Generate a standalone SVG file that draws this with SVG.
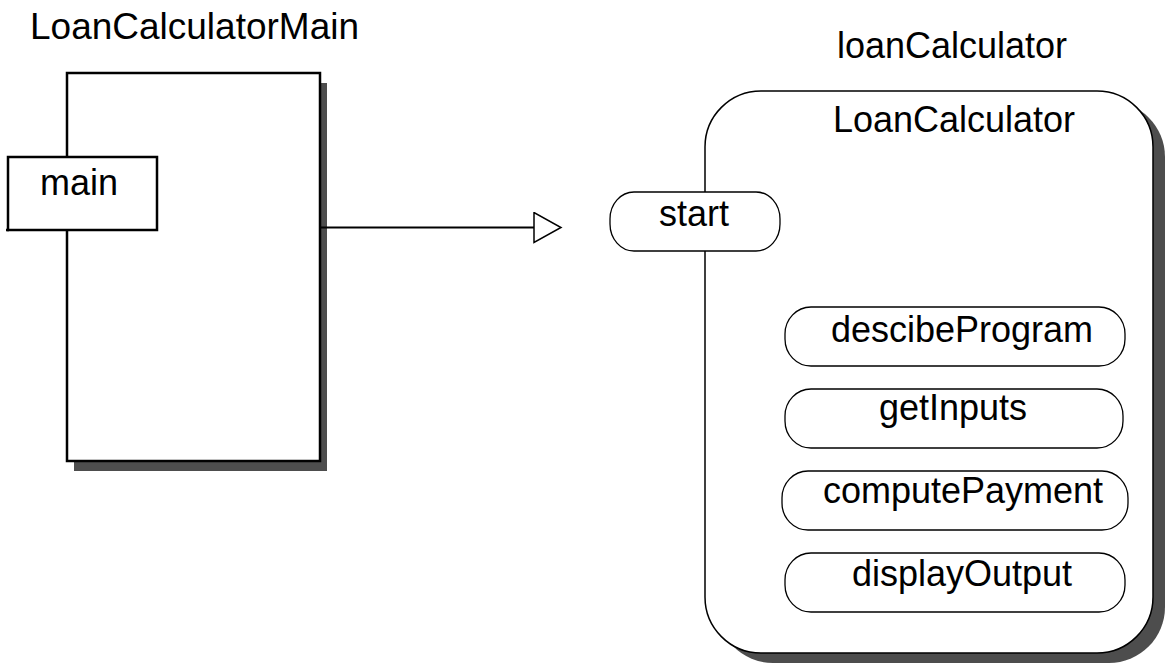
<svg xmlns="http://www.w3.org/2000/svg" width="1168" height="664" viewBox="0 0 1168 664">
  <style>
    text { font-family: "Liberation Sans", Arial, sans-serif; font-size: 36px; fill: #000; }
    .mid { text-anchor: middle; }
    .shadow { fill: #4d4d4d; stroke: none; }
    .frame { fill: #fff; stroke: #000; stroke-width: 2.5; }
    .soft { fill: #fff; stroke: #000; stroke-width: 1.5; }
    .pill { fill: #fff; stroke: #000; stroke-width: 1.3; }
    .wire { fill: none; stroke: #000; stroke-width: 2; }
  </style>
  <defs>
    <marker id="openTri" markerUnits="userSpaceOnUse" markerWidth="32" markerHeight="36" refX="1" refY="16" orient="auto">
      <path d="M1,1 L28,16 L1,31 Z" fill="#fff" stroke="#000" stroke-width="1.5"/>
    </marker>
  </defs>
  <rect width="1168" height="664" fill="#fff"/>

  <!-- LoanCalculatorMain class -->
  <g id="loanCalculatorMain">
    <text x="30" y="39" textLength="329" lengthAdjust="spacingAndGlyphs">LoanCalculatorMain</text>
    <rect class="shadow" x="74" y="83" width="253" height="388"/>
    <rect class="frame" x="67" y="73" width="253" height="388"/>
  </g>

  <!-- main method box on the class edge -->
  <g id="main">
    <rect class="frame" x="8" y="157" width="149" height="73"/>
    <line x1="6" y1="230" x2="9" y2="230" stroke="#000" stroke-width="2.5"/>
    <text class="mid" x="79" y="195">main</text>
  </g>

  <!-- connectors -->
  <g id="connectors">
    <line class="wire" x1="320" y1="227.5" x2="534" y2="227.5" marker-end="url(#openTri)"/>
  </g>

  <!-- loanCalculator object -->
  <g id="loanCalculator">
    <text class="mid" x="952" y="58">loanCalculator</text>
    <rect class="shadow" x="717" y="101" width="448" height="562" rx="56" ry="56"/>
    <rect class="soft" x="705" y="91" width="448" height="562" rx="56" ry="56"/>
    <text class="mid" x="954" y="132">LoanCalculator</text>
  </g>

  <g id="start">
    <rect class="pill" x="610" y="192" width="170" height="59" rx="24" ry="27"/>
    <text class="mid" x="694" y="226">start</text>
  </g>

  <g id="descibeProgram">
    <rect class="pill" x="785" y="307" width="340" height="59" rx="26" ry="27"/>
    <text class="mid" x="962" y="342">descibeProgram</text>
  </g>

  <g id="getInputs">
    <rect class="pill" x="785" y="389" width="338" height="59" rx="26" ry="27"/>
    <text class="mid" x="953" y="420">getInputs</text>
  </g>

  <g id="computePayment">
    <rect class="pill" x="782" y="471" width="346" height="59" rx="26" ry="27"/>
    <text class="mid" x="963" y="503">computePayment</text>
  </g>

  <g id="displayOutput">
    <rect class="pill" x="785" y="553" width="340" height="59" rx="26" ry="27"/>
    <text class="mid" x="962" y="586">displayOutput</text>
  </g>
</svg>
